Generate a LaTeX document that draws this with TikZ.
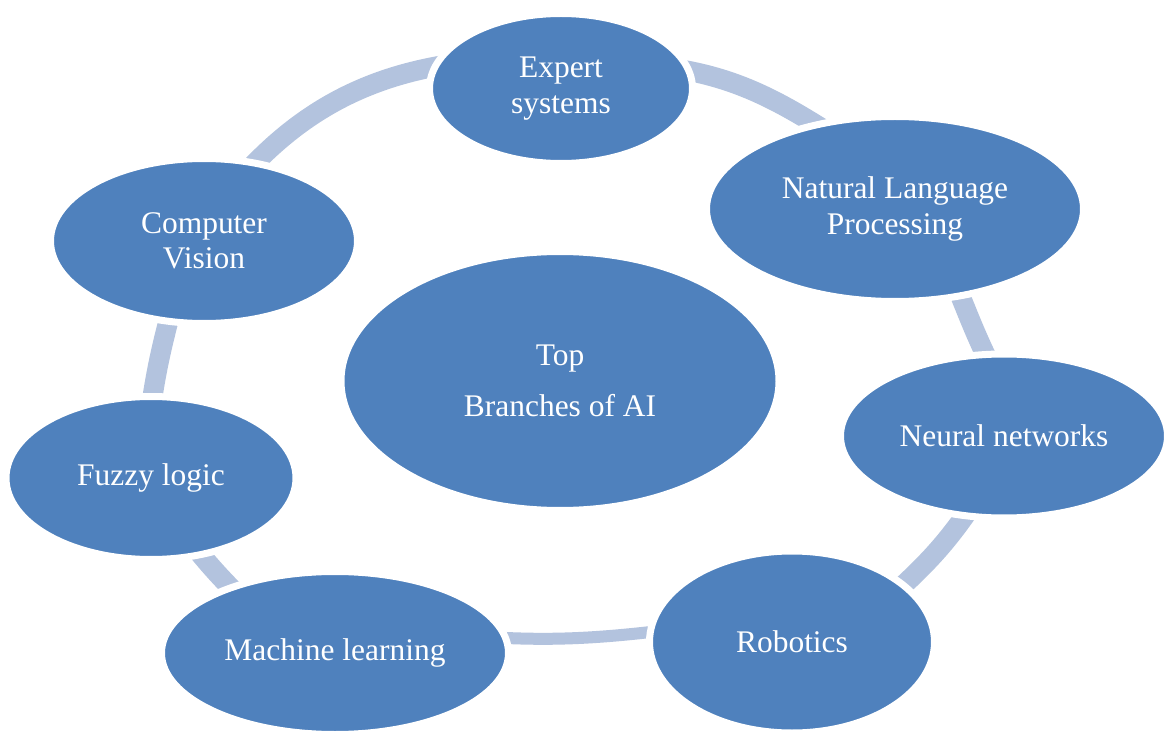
\documentclass[tikz,border=0pt]{standalone}
\usepackage{fontspec}
\setmainfont{Liberation Serif}
\usetikzlibrary{shapes.geometric}
\pgfdeclarelayer{bg}
\pgfsetlayers{bg,main}
\definecolor{nodeblue}{RGB}{79,129,189}
\definecolor{ringblue}{RGB}{179,195,222}
\begin{document}
\begin{tikzpicture}[x=0.75pt,y=-0.75pt,
  bub/.style 2 args={ellipse, fill=nodeblue, draw=white, line width=5.25pt,
    inner sep=0pt, outer sep=0pt,
    minimum width={(#1+7)*0.75pt}, minimum height={(#2+7)*0.75pt},
    text=white, align=center, font=\fontsize{23.6}{26.5}\selectfont},
  ring/.style={draw=ringblue, line width=15pt, shorten <=-12pt, shorten >=-12pt},
  thinring/.style={ring, line width=9pt}]
\useasboundingbox (0,0) rectangle (1165,731);
\node[bub={256}{143}] (expert) at (561,88.5) {Expert\\systems};
\node[bub={370}{178}] (nlp) at (895,209) {Natural Language\\Processing};
\node[bub={320}{157}] (neural) at (1004,436) {Neural networks};
\node[bub={278}{175}] (robotics) at (792,642) {Robotics};
\node[bub={340}{156}] (ml) at (335,653) {Machine learning};
\node[bub={283}{156}] (fuzzy) at (151,478) {Fuzzy logic};
\node[bub={300}{158}] (cv) at (204,241) {Computer\\Vision};
\node[bub={431}{252}] (center) at (560,381) {Top\\[12pt]Branches of AI};
\begin{pgfonlayer}{bg}
\fill[white] (0,0) rectangle (1165,731);
\draw[ring] (cv.57) .. controls (302,111) and (366,77) .. (expert.170);
\draw[ring] (expert.8) .. controls (734.5,77.4) and (776.6,99.3) .. (nlp.133);
\draw[ring] (nlp.-53) .. controls (969,317) and (976,336) .. (neural.103);
\draw[ring] (neural.244) .. controls (947.5,542) and (927.6,563.3) .. (robotics.27);
\draw[thinring] (robotics.176) .. controls (601,638) and (554,641) .. (ml.5);
\draw[ring] (ml.148) .. controls (219,576) and (210,566) .. (fuzzy.303);
\draw[ring] (fuzzy.89) .. controls (156,371) and (161.5,347) .. (cv.246);
\end{pgfonlayer}
\end{tikzpicture}
\end{document}
